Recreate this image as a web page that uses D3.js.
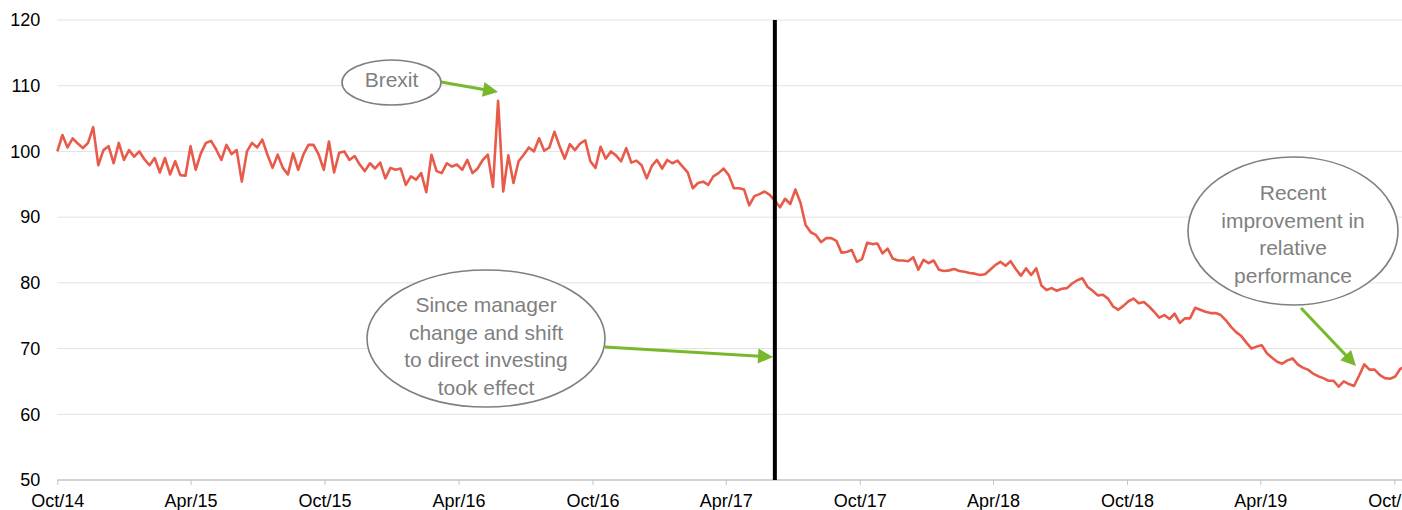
<!DOCTYPE html>
<html>
<head>
<meta charset="utf-8">
<script src="https://cdn.jsdelivr.net/npm/d3@7"></script>
<style>
    html, body { margin:0; padding:0; background:#fff; overflow:hidden; }
    svg { display:block; }
</style>
</head>
<body>
<div id="chart"></div>
<script>
// relative performance index (start = 100), weekly readings, one array per Oct-Sep year
const START_DATE = "2014-10-01";
const wk2014_15 = [
    100.0, 102.5, 100.6, 102.0, 101.2, 100.5, 101.3, 103.7, 97.9, 100.2,
    100.8, 98.2, 101.3, 98.7, 100.2, 99.2, 100.0, 98.8, 97.9, 99.0,
    96.8, 99.0, 96.5, 98.5, 96.4, 96.3, 100.8, 97.2, 99.7, 101.3,
    101.6, 100.3, 98.7, 101.0, 99.6, 100.2, 95.4, 100.0, 101.3, 100.6,
    101.8, 99.5, 97.5, 99.5, 97.5, 96.5, 99.7, 97.2, 99.5, 101.0,
    101.0, 99.5
];
const wk2015_16 = [
    97.2, 101.5, 96.8, 99.8, 100.0, 98.7, 99.3, 98.0, 97.0, 98.2,
    97.4, 98.3, 95.9, 97.5, 97.2, 97.4, 94.9, 96.2, 95.7, 96.7,
    93.8, 99.5, 97.0, 96.7, 98.2, 97.7, 98.0, 97.2, 98.7, 96.7,
    97.4, 98.7, 99.5, 94.6, 107.7, 93.9, 99.4, 95.2, 98.5, 99.5,
    100.6, 100.0, 102.0, 100.1, 100.6, 103.0, 100.8, 98.9, 101.1, 100.2,
    101.2, 101.7
];
const wk2016_17 = [
    98.5, 97.5, 100.7, 98.9, 100.0, 99.4, 98.5, 100.5, 98.3, 98.6,
    97.9, 95.9, 97.8, 98.7, 97.4, 98.7, 98.2, 98.6, 97.7, 96.8,
    94.4, 95.2, 95.4, 94.9, 96.2, 96.7, 97.4, 96.4, 94.4, 94.4,
    94.2, 91.8, 93.2, 93.5, 93.9, 93.4, 92.5, 91.5, 92.8, 92.0,
    94.2, 92.2, 88.8, 87.7, 87.3, 86.2, 86.8, 86.8, 86.4, 84.6,
    84.7, 85.0
];
const wk2017_18 = [
    83.2, 83.6, 86.1, 85.9, 86.0, 84.5, 85.2, 83.7, 83.4, 83.4,
    83.3, 83.9, 82.0, 83.5, 83.0, 83.4, 82.0, 81.8, 81.9, 82.1,
    81.8, 81.7, 81.5, 81.4, 81.2, 81.3, 82.0, 82.7, 83.2, 82.6,
    83.3, 82.1, 81.1, 82.2, 81.2, 82.2, 79.6, 78.9, 79.2, 78.8,
    79.1, 79.2, 79.9, 80.4, 80.7, 79.4, 78.8, 78.1, 78.2, 77.6,
    76.4, 75.9
];
const wk2018_19 = [
    76.5, 77.2, 77.6, 76.9, 77.1, 76.4, 75.6, 74.7, 75.1, 74.5,
    75.3, 73.9, 74.6, 74.6, 76.2, 75.9, 75.6, 75.4, 75.4, 75.1,
    74.3, 73.3, 72.5, 71.9, 70.9, 70.0, 70.3, 70.5, 69.3, 68.6,
    68.0, 67.7, 68.2, 68.5, 67.6, 67.1, 66.8, 66.2, 65.8, 65.5,
    65.1, 65.1, 64.2, 65.0, 64.6, 64.3, 65.9, 67.6, 66.8, 66.8,
    66.0, 65.5, 65.4, 65.7, 66.9, 67.3
];

const yTicks = [50, 60, 70, 80, 90, 100, 110, 120];
const xTickDates = ["2014-10-01", "2015-04-01", "2015-10-01", "2016-04-01", "2016-10-01", "2017-04-01",
                    "2017-10-01", "2018-04-01", "2018-10-01", "2019-04-01", "2019-10-01"];
const xTickLabels = ["Oct/14", "Apr/15", "Oct/15", "Apr/16", "Oct/16", "Apr/17",
                     "Oct/17", "Apr/18", "Oct/18", "Apr/19", "Oct/19"];
// manager change
const MARKER_DATE = "2017-06-07";

const annotationTexts = [
    ["Brexit"],
    ["Since manager", "change and shift", "to direct investing", "took effect"],
    ["Recent", "improvement in", "relative", "performance"]
];

function performanceChart() {
    // dimensions
    let width = 1402;
    let height = 510;
    let margin = { top:20, bottom:30, left:57.3, right:7.7 };

    const FONT = "'Liberation Sans', Arial, sans-serif";
    const COLOURS = {
        line:"#e85a4a",
        grid:"#e2e2e2",
        axis:"#c4c4c4",
        text:"#000",
        note:"#7f7f7f",
        arrow:"#78b82a",
        marker:"#000"
    };

    // annotation layout (pixels)
    const NOTES = [
        { cx:391.5, cy:82.5, rx:49.5, ry:22.5, textY:80, from:[441, 82], to:[498, 92] },
        { cx:486, cy:338.5, rx:119, ry:68.5, textY:305, from:[605, 347], to:[773, 357] },
        { cx:1293, cy:231, rx:105, ry:74, textY:192.7, from:[1301, 308], to:[1356, 366] }
    ];

    function chart(selection) {
        selection.each(function (data) {
            const parseDate = d3.timeParse("%Y-%m-%d");
            const tickDates = xTickDates.map(parseDate);

            const x = d3.scaleTime()
                .domain([tickDates[0], tickDates[tickDates.length - 1]])
                .range([margin.left, width - margin.right]);
            const y = d3.scaleLinear()
                .domain([yTicks[0], yTicks[yTicks.length - 1]])
                .range([height - margin.bottom, margin.top]);

            const svg = d3.select(this).append("svg")
                .attr("width", width)
                .attr("height", height)
                .style("font-family", FONT);

            //gridlines
            svg.append("g").attr("class", "grid")
                .selectAll("line")
                .data(yTicks.slice(1))
                .join("line")
                    .attr("x1", margin.left)
                    .attr("x2", width)
                    .attr("y1", d => y(d))
                    .attr("y2", d => y(d))
                    .attr("stroke", COLOURS.grid)
                    .attr("stroke-width", 1);

            //y axis
            const yAxisG = svg.append("g")
                .attr("transform", `translate(${margin.left},0)`)
                .call(d3.axisLeft(y).tickValues(yTicks).tickSize(0).tickPadding(17));
            yAxisG.select(".domain").remove();
            yAxisG.selectAll("text")
                .attr("fill", COLOURS.text)
                .style("font-size", "18px")
                .style("font-family", FONT);

            //x axis
            svg.append("line")
                .attr("x1", margin.left)
                .attr("x2", width)
                .attr("y1", y(yTicks[0]))
                .attr("y2", y(yTicks[0]))
                .attr("stroke", COLOURS.axis)
                .attr("stroke-width", 1.5);

            const xAxisG = svg.append("g")
                .attr("transform", `translate(0,${y(yTicks[0])})`)
                .call(d3.axisBottom(x)
                    .tickValues(tickDates)
                    .tickFormat((d,i) => xTickLabels[i])
                    .tickSize(5)
                    .tickSizeOuter(0)
                    .tickPadding(9));
            xAxisG.select(".domain").remove();
            xAxisG.selectAll("line").attr("stroke", COLOURS.axis);
            xAxisG.selectAll("text")
                .attr("fill", COLOURS.text)
                .style("font-size", "18px")
                .style("font-family", FONT);

            //series
            const line = d3.line()
                .x(d => x(d.date))
                .y(d => y(d.value));

            svg.append("path")
                .datum(data)
                .attr("class", "series")
                .attr("fill", "none")
                .attr("stroke", COLOURS.line)
                .attr("stroke-width", 2.6)
                .attr("stroke-linejoin", "round")
                .attr("d", line);

            //manager change marker
            const markerX = x(parseDate(MARKER_DATE));
            svg.append("line")
                .attr("x1", markerX)
                .attr("x2", markerX)
                .attr("y1", y(yTicks[yTicks.length - 1]))
                .attr("y2", y(yTicks[0]))
                .attr("stroke", COLOURS.marker)
                .attr("stroke-width", 4);

            //annotations
            const noteG = svg.selectAll("g.note")
                .data(NOTES)
                .join("g")
                    .attr("class", "note")
                    .each(function(d,i){
                        const g = d3.select(this);

                        // arrow
                        const dx = d.to[0] - d.from[0], dy = d.to[1] - d.from[1];
                        const len = Math.sqrt(dx*dx + dy*dy);
                        const ux = dx / len, uy = dy / len;
                        const headLen = 15, headHalf = 7.5;
                        const bx = d.to[0] - ux * headLen, by = d.to[1] - uy * headLen;

                        g.append("line")
                            .attr("x1", d.from[0])
                            .attr("y1", d.from[1])
                            .attr("x2", bx + ux * 2)
                            .attr("y2", by + uy * 2)
                            .attr("stroke", COLOURS.arrow)
                            .attr("stroke-width", 3);

                        g.append("path")
                            .attr("d", `M${d.to[0]},${d.to[1]}L${bx - uy*headHalf},${by + ux*headHalf}L${bx + uy*headHalf},${by - ux*headHalf}Z`)
                            .attr("fill", COLOURS.arrow);

                        // bubble
                        g.append("ellipse")
                            .attr("cx", d.cx)
                            .attr("cy", d.cy)
                            .attr("rx", d.rx)
                            .attr("ry", d.ry)
                            .attr("fill", "#fff")
                            .attr("stroke", COLOURS.note)
                            .attr("stroke-width", 1.6);

                        g.selectAll("text")
                            .data(annotationTexts[i])
                            .join("text")
                                .attr("x", d.cx)
                                .attr("y", (t,j) => d.textY + j * 27.5)
                                .attr("dy", "0.35em")
                                .attr("text-anchor", "middle")
                                .attr("fill", COLOURS.note)
                                .style("font-size", "21px")
                                .text(t => t);
                    });

            return selection;
        });
    }

    //api
    chart.width = function (value) {
        if (!arguments.length) { return width; }
        width = value;
        return chart;
    };
    chart.height = function (value) {
        if (!arguments.length) { return height; }
        height = value;
        return chart;
    };
    chart.margin = function (value) {
        if (!arguments.length) { return margin; }
        margin = { ...margin, ...value };
        return chart;
    };

    return chart;
}

const weeklyValues = [...wk2014_15, ...wk2015_16, ...wk2016_17, ...wk2017_18, ...wk2018_19];
const startDate = d3.timeParse("%Y-%m-%d")(START_DATE);
const series = weeklyValues.map((value, i) => ({ date: d3.timeWeek.offset(startDate, i), value }));

d3.select("#chart")
    .datum(series)
    .call(performanceChart().width(1402).height(510));
</script>
</body>
</html>
